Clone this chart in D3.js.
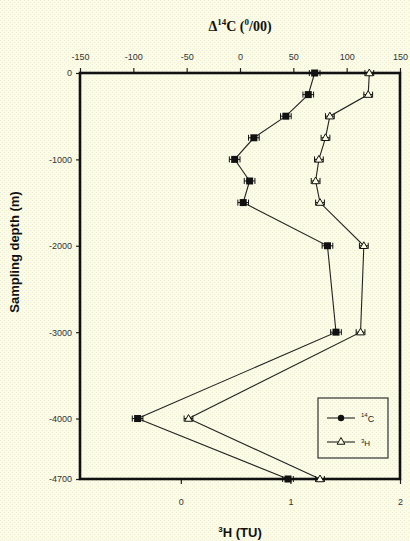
<!DOCTYPE html>
<html>
<head>
<meta charset="utf-8">
<script src="https://cdn.jsdelivr.net/npm/d3@7"></script>
<style>
  html, body { margin: 0; padding: 0; background: #fcfce3; }
  svg { display: block; }
</style>
</head>
<body>
<script>
// Sampling depths (m) and measured profiles
const depths = [0, -250, -500, -750, -1000, -1250, -1500, -2000, -3000, -4000, -4700];
const c14 = [70, 64, 43, 13, -5, 9, 3, 82, 90, -96, 45];        // Δ14C (‰)
const h3  = [1.72, 1.71, 1.36, 1.32, 1.26, 1.23, 1.27, 1.67, 1.64, 0.07, 1.27]; // 3H (TU)
const c14Err = [5, 5, 5, 5, 5, 5, 5, 5, 5, 5, 5];
const h3Err  = [0.04, 0.04, 0.04, 0.04, 0.04, 0.04, 0.04, 0.04, 0.04, 0.04, 0.04];

const topTicks = [-150, -100, -50, 0, 50, 100, 150];
const bottomTicks = [0, 1, 2];
const depthTicks = [0, -1000, -2000, -3000, -4000, -4700];

const W = 410, H = 541;
const plot = { left: 80, right: 400, top: 73, bottom: 479 };

const svg = d3.select("body").append("svg").attr("width", W).attr("height", H);

// dotted paper background
const defs = svg.append("defs");
const pat = defs.append("pattern").attr("id", "dots").attr("width", 4).attr("height", 4)
  .attr("patternUnits", "userSpaceOnUse");
pat.append("rect").attr("width", 4).attr("height", 4).attr("fill", "#fcfce3");
pat.append("rect").attr("x", 0).attr("y", 0).attr("width", 1).attr("height", 1).attr("fill", "#ecece0");
pat.append("rect").attr("x", 2).attr("y", 2).attr("width", 1).attr("height", 1).attr("fill", "#ecece0");
svg.append("rect").attr("width", W).attr("height", H).attr("fill", "url(#dots)");

const xC = d3.scaleLinear().domain([-150, 150]).range([plot.left, plot.right]);
const xH = d3.scaleLinear().domain([-0.92, 2]).range([plot.left, plot.right]);
const y = d3.scaleLinear().domain([0, -4700]).range([plot.top, plot.bottom]);

const tickFont = "Arial, 'Liberation Sans', sans-serif";
const plain = d => String(d);

// axes
const gTop = svg.append("g").attr("transform", `translate(0,${plot.top})`)
  .call(d3.axisTop(xC).tickValues(topTicks).tickFormat(plain).tickSize(5).tickPadding(8));
const gBot = svg.append("g").attr("transform", `translate(0,${plot.bottom})`)
  .call(d3.axisBottom(xH).tickValues(bottomTicks).tickFormat(plain).tickSize(5).tickPadding(15));
const gLeft = svg.append("g").attr("transform", `translate(${plot.left},0)`)
  .call(d3.axisLeft(y).tickValues(depthTicks).tickFormat(plain).tickSize(4).tickPadding(4));

[gTop, gBot, gLeft].forEach(g => {
  g.select(".domain").remove();
  g.selectAll(".tick line").attr("stroke", "#222").attr("stroke-width", 1.2);
  g.selectAll(".tick text").attr("font-family", tickFont).attr("font-size", 9)
    .attr("fill", "#333");
});

// plot frame
svg.append("rect")
  .attr("x", plot.left).attr("y", plot.top)
  .attr("width", plot.right - plot.left).attr("height", plot.bottom - plot.top)
  .attr("fill", "none").attr("stroke", "#111").attr("stroke-width", 2.6);

// profile lines
const lineC = d3.line().x((d, i) => xC(c14[i])).y(d => y(d));
const lineH = d3.line().x((d, i) => xH(h3[i])).y(d => y(d));
svg.append("path").datum(depths).attr("d", lineC)
  .attr("fill", "none").attr("stroke", "#222").attr("stroke-width", 1.1);
svg.append("path").datum(depths).attr("d", lineH)
  .attr("fill", "none").attr("stroke", "#222").attr("stroke-width", 1.1);

// error bars
function errBars(xs, vals, errs) {
  const g = svg.append("g").attr("stroke", "#111").attr("stroke-width", 1);
  depths.forEach((d, i) => {
    const x1 = xs(vals[i] - errs[i]), x2 = xs(vals[i] + errs[i]), yy = y(d);
    g.append("line").attr("x1", x1).attr("x2", x2).attr("y1", yy).attr("y2", yy);
    g.append("line").attr("x1", x1).attr("x2", x1).attr("y1", yy - 3).attr("y2", yy + 3);
    g.append("line").attr("x1", x2).attr("x2", x2).attr("y1", yy - 3).attr("y2", yy + 3);
  });
}
errBars(xC, c14, c14Err);
errBars(xH, h3, h3Err);

// markers
const tri = d3.symbol().type(d3.symbolTriangle).size(26);
svg.append("g").selectAll("path").data(depths).join("path")
  .attr("d", tri)
  .attr("transform", (d, i) => `translate(${xH(h3[i])},${y(d) + 0.5})`)
  .attr("fill", "#fcfce3").attr("stroke", "#111").attr("stroke-width", 1);
svg.append("g").selectAll("rect").data(depths).join("rect")
  .attr("x", (d, i) => xC(c14[i]) - 3.5).attr("y", d => y(d) - 3.5)
  .attr("width", 7).attr("height", 7).attr("fill", "#111");

// legend
const leg = svg.append("g");
leg.append("rect").attr("x", 318).attr("y", 398).attr("width", 70).attr("height", 60)
  .attr("fill", "none").attr("stroke", "#333").attr("stroke-width", 1.2);
leg.append("line").attr("x1", 327).attr("x2", 355).attr("y1", 418).attr("y2", 418)
  .attr("stroke", "#222").attr("stroke-width", 1.1);
leg.append("circle").attr("cx", 341).attr("cy", 418).attr("r", 3.2).attr("fill", "#111");
leg.append("line").attr("x1", 327).attr("x2", 355).attr("y1", 442).attr("y2", 442)
  .attr("stroke", "#222").attr("stroke-width", 1.1);
leg.append("path").attr("d", tri).attr("transform", "translate(341,442)")
  .attr("fill", "#fcfce3").attr("stroke", "#111").attr("stroke-width", 1);
const t1 = leg.append("text").attr("x", 361).attr("y", 422)
  .attr("font-family", tickFont).attr("font-size", 9).attr("fill", "#222");
t1.append("tspan").attr("font-size", 6).attr("dy", -5).text("14");
t1.append("tspan").attr("dy", 5).text("C");
const t2 = leg.append("text").attr("x", 361).attr("y", 446)
  .attr("font-family", tickFont).attr("font-size", 8).attr("fill", "#222");
t2.append("tspan").attr("font-size", 6).attr("dy", -3).text("3");
t2.append("tspan").attr("dy", 3).text("H");

// axis titles
const topTitle = svg.append("text").attr("x", 240).attr("y", 31).attr("text-anchor", "middle")
  .attr("font-family", "'Liberation Serif', 'Times New Roman', serif")
  .attr("font-weight", "bold").attr("font-size", 14).attr("fill", "#111");
topTitle.append("tspan").text("Δ");
topTitle.append("tspan").attr("font-size", 9).attr("dy", -6).text("14");
topTitle.append("tspan").attr("dy", 6).text("C (");
topTitle.append("tspan").attr("font-size", 9).attr("dy", -6).text("0");
topTitle.append("tspan").attr("dy", 6).text("/00)");

const botTitle = svg.append("text").attr("x", 240).attr("y", 537).attr("text-anchor", "middle")
  .attr("font-family", tickFont).attr("font-weight", "bold").attr("font-size", 13).attr("fill", "#111");
botTitle.append("tspan").attr("font-size", 8).attr("dy", -5).text("3");
botTitle.append("tspan").attr("dy", 5).text("H (TU)");

svg.append("text").attr("transform", "translate(19,252) rotate(-90)").attr("text-anchor", "middle")
  .attr("font-family", tickFont).attr("font-weight", "bold").attr("font-size", 13).attr("fill", "#111")
  .text("Sampling depth (m)");
</script>
</body>
</html>
